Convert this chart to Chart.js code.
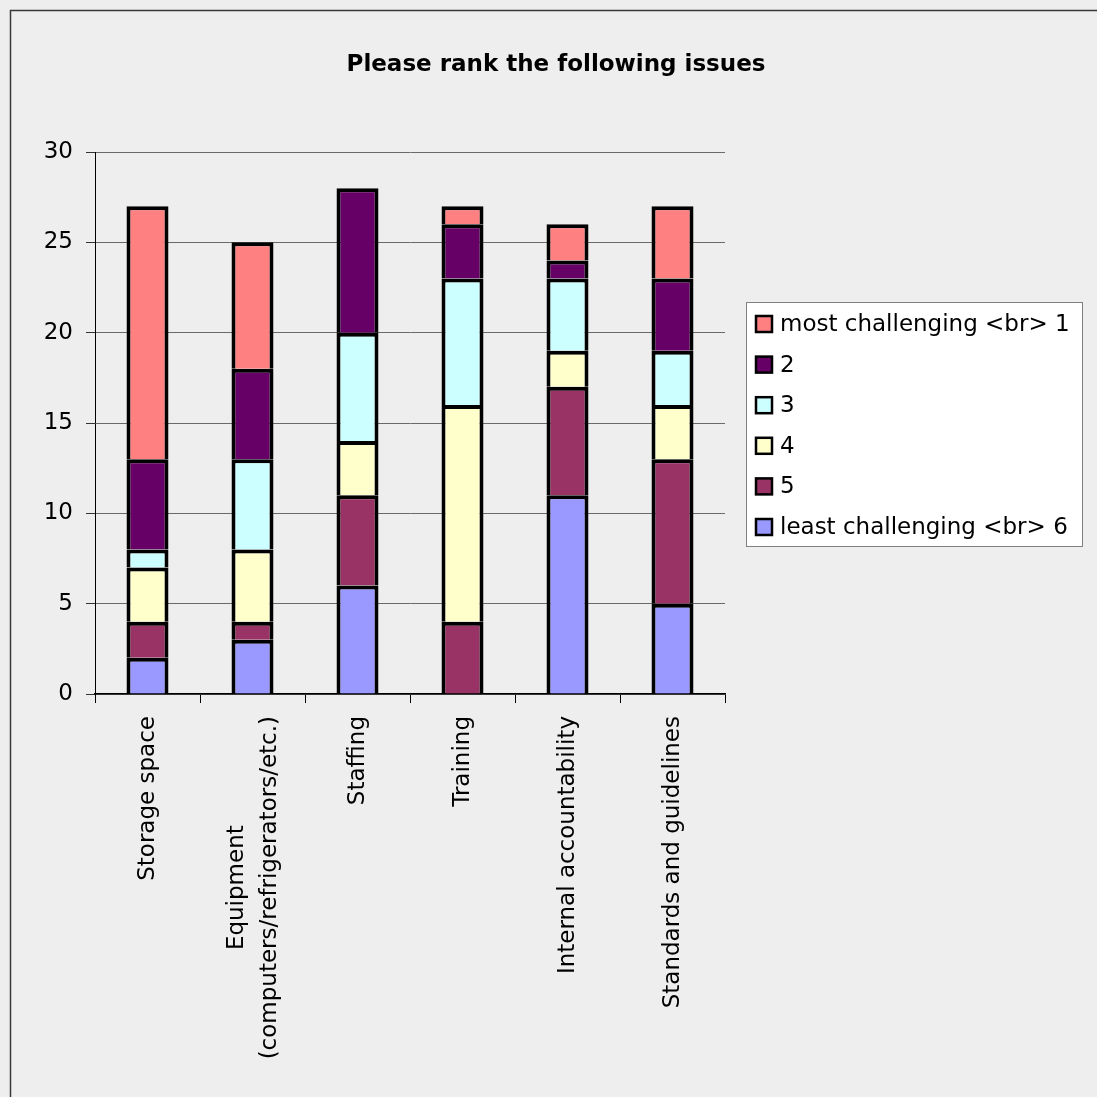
<!DOCTYPE html>
<html>
<head>
<meta charset="utf-8">
<script src="https://cdn.jsdelivr.net/npm/chart.js@4.4.1/dist/chart.umd.min.js"></script>
<style>
  html, body { margin: 0; padding: 0; background: #EEEEEE; }
  #wrap { width: 1097px; height: 1097px; }
</style>
</head>
<body>
<div id="wrap"><canvas id="c" width="1097" height="1097"></canvas></div>
<script>
// ── data ─────────────────────────────────────────────
const TITLE = 'Please rank the following issues';

const categories = [
  ['Storage space'],
  ['Equipment', '(computers/refrigerators/etc.)'],
  ['Staffing'],
  ['Training'],
  ['Internal accountability'],
  ['Standards and guidelines'],
];

const yTicks = [0, 5, 10, 15, 20, 25, 30];

// stacked bottom → top
const rank6 = [2, 3, 6, 0, 11, 5];
const rank5 = [2, 1, 5, 4, 6, 8];
const rank4 = [3, 4, 3, 12, 2, 3];
const rank3 = [1, 5, 6, 7, 4, 3];
const rank2 = [5, 5, 8, 3, 1, 4];
const rank1 = [14, 7, 0, 1, 2, 4];

const seriesNames  = ['least challenging <br> 6', '5', '4', '3', '2', 'most challenging <br> 1'];
const seriesValues = [rank6, rank5, rank4, rank3, rank2, rank1];
const seriesColors = ['#9999FF', '#993366', '#FFFFCC', '#CCFFFF', '#660066', '#FF8080'];

// ── layout ───────────────────────────────────────────
const FONT = '"DejaVu Sans", Verdana, sans-serif';
const AREA = { left: 95, top: 152, right: 725, bottom: 694 };
const W = 1097, H = 1097;

// ── background + frame ───────────────────────────────
const bgPlugin = {
  id: 'bg',
  beforeDraw(chart) {
    const ctx = chart.ctx;
    ctx.save();
    ctx.fillStyle = '#EEEEEE';
    ctx.fillRect(0, 0, W, H);
    ctx.strokeStyle = '#3a3a3a';
    ctx.lineWidth = 1.5;
    ctx.strokeRect(10.5, 10.5, W + 20, H + 20);
    ctx.restore();
  },
};

// ── title, category labels, legend ───────────────────
const decoPlugin = {
  id: 'deco',
  afterDraw(chart) {
    const ctx = chart.ctx;
    ctx.save();

    // title
    ctx.fillStyle = '#000';
    ctx.font = 'bold 23px ' + FONT;
    ctx.textAlign = 'center';
    ctx.textBaseline = 'middle';
    ctx.fillText(TITLE, 556, 65);

    // category labels (rotated, lines centered within block)
    const xs = chart.scales.x;
    ctx.font = '23px ' + FONT;
    categories.forEach((lines, i) => {
      const cx = xs.getPixelForValue(i);
      const widths = lines.map(l => ctx.measureText(l).width);
      const maxW = Math.max(...widths);
      const lh = 33;
      const top = 716;
      lines.forEach((l, li) => {
        const off = (li - (lines.length - 1) / 2) * lh;
        ctx.save();
        ctx.translate(cx + off, top + (maxW - widths[li]) / 2);
        ctx.rotate(-Math.PI / 2);
        ctx.textAlign = 'right';
        ctx.textBaseline = 'middle';
        ctx.fillText(l, 0, 1);
        ctx.restore();
      });
    });

    // legend
    const lx = 746, ly = 302, lw = 336, lh2 = 244;
    ctx.fillStyle = '#FFFFFF';
    ctx.fillRect(lx, ly, lw, lh2);
    ctx.strokeStyle = '#808080';
    ctx.lineWidth = 1;
    ctx.strokeRect(lx + 0.5, ly + 0.5, lw, lh2);

    const order = [5, 4, 3, 2, 1, 0];
    order.forEach((si, row) => {
      const cy = 324 + row * 40.6;
      ctx.fillStyle = seriesColors[si];
      ctx.fillRect(756, cy - 8, 16, 16);
      ctx.strokeStyle = '#000';
      ctx.lineWidth = 2.5;
      ctx.strokeRect(756, cy - 8, 16, 16);
      ctx.fillStyle = '#000';
      ctx.font = '23px ' + FONT;
      ctx.textAlign = 'left';
      ctx.textBaseline = 'middle';
      ctx.fillText(seriesNames[si], 780, cy + 1);
    });

    ctx.restore();
  },
};

const datasets = seriesNames.map((name, i) => ({
  label: name,
  data: seriesValues[i],
  backgroundColor: seriesColors[i],
  borderColor: '#000000',
  borderWidth: 4,
  borderSkipped: 'start',
  inflateAmount: 0,
  categoryPercentage: 1.0,
  barPercentage: 0.4,
}));

new Chart(document.getElementById('c'), {
  type: 'bar',
  data: { labels: categories.map(c => c.join(' ')), datasets },
  plugins: [bgPlugin, decoPlugin],
  options: {
    responsive: false,
    animation: false,
    devicePixelRatio: 1,
    layout: {
      padding: { left: 0, top: AREA.top, right: W - AREA.right, bottom: H - AREA.bottom - 40 },
    },
    plugins: {
      legend: { display: false },
      title: { display: false },
      tooltip: { enabled: false },
    },
    scales: {
      x: {
        stacked: true,
        offset: true,
        grid: {
          display: true,
          drawOnChartArea: false,
          drawTicks: true,
          tickLength: 9,
          tickColor: '#000',
          offset: true,
        },
        border: { display: true, color: '#000', width: 1.5 },
        ticks: { display: false },
        afterFit(scale) { scale.height = 40; },
      },
      y: {
        stacked: true,
        min: 0,
        max: 30,
        afterBuildTicks(scale) { scale.ticks = yTicks.map(v => ({ value: v })); },
        grid: {
          color: '#6a6a6a',
          lineWidth: 1,
          tickLength: 9,
          tickColor: '#333',
        },
        border: { display: true, color: '#000', width: 1 },
        ticks: {
          color: '#000',
          font: { family: FONT, size: 23 },
          padding: 13,
        },
        afterFit(scale) { scale.width = AREA.left; },
      },
    },
  },
});
</script>
</body>
</html>
